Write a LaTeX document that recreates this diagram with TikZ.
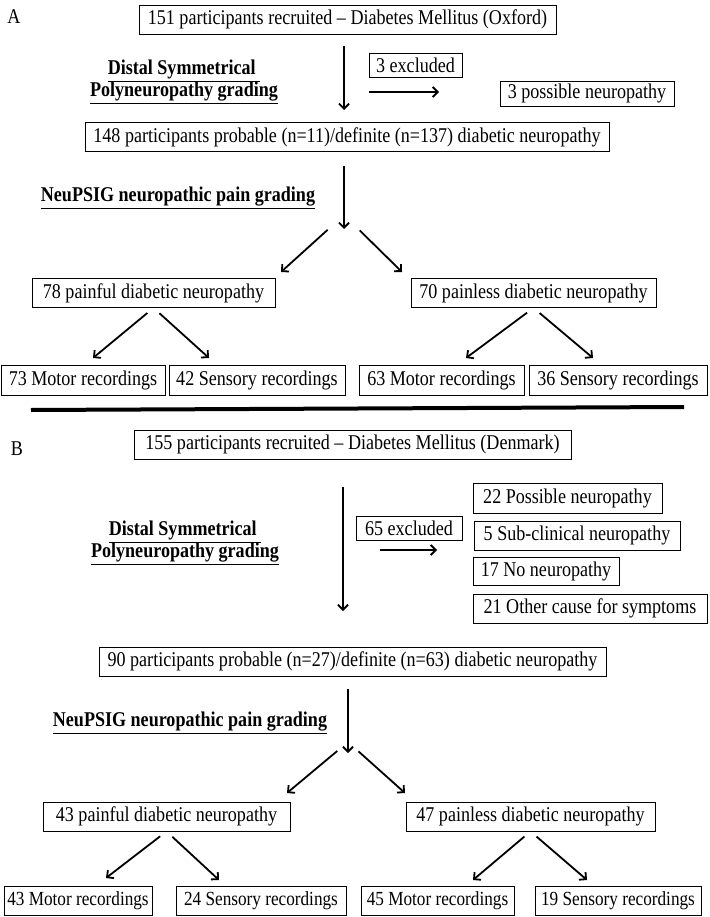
\documentclass[tikz,border=0pt]{standalone}
\usepackage{fontspec}
\setmainfont{Liberation Serif}[FakeStretch=0.86]
\usetikzlibrary{arrows.meta}
\tikzset{
  box/.style={draw, line width=0.8pt, inner xsep=1pt, inner ysep=0pt, minimum height=29},
  smallbox/.style={box, minimum height=24},
  arr/.style={line width=1.8pt, -{Straight Barb[length=5pt,width=10pt]}},
  grading/.style={font=\fontsize{21}{22}\selectfont\bfseries, align=center},
  rowB/.style={font=\fontsize{20}{21}\selectfont},
}
\begin{document}
\begin{tikzpicture}[x=1pt, y=-1pt, font=\fontsize{21}{22}\selectfont]
\useasboundingbox (0,0) rectangle (709,917);
% part A
\node (lblA) at (14,17) {A};
\node[box, minimum width=417] (recA) at (347.5,19.5) {151 participants recruited – Diabetes Mellitus (Oxford)};
\node[grading] (dspA) at (184,82) {\underline{Distal Symmetrical~}\\\underline{Polyneuropathy grading}};
\node[smallbox, minimum width=93] (exclA) at (415.5,65) {3 excluded};
\node[smallbox, minimum width=174, minimum height=25] (possA) at (587,93.5) {3 possible neuropathy};
\node[box, minimum width=524] (dnA) at (347,137) {148 participants probable (n=11)/definite (n=137) diabetic neuropathy};
\node[grading] (npA) at (178,198) {\underline{NeuPSIG neuropathic pain grading}};
\node[box, minimum width=243] (painA) at (153.5,293) {78 painful diabetic neuropathy};
\node[box, minimum width=245] (plA) at (533.5,293) {70 painless diabetic neuropathy};
\node[box, minimum width=164, minimum height=30] (mA1) at (83,380) {73 Motor recordings};
\node[box, minimum width=176, minimum height=30] (sA1) at (257,380) {42 Sensory recordings};
\node[box, minimum width=165, minimum height=30] (mA2) at (441.5,380) {63 Motor recordings};
\node[box, minimum width=178, minimum height=30] (sA2) at (618,380) {36 Sensory recordings};
\coordinate (tipA1) at (344,110);
\coordinate (hA1) at (369,92);
\coordinate (hA2) at (439,92);
\coordinate (tipA2) at (344,229);
\coordinate (forkA) at (344,215);
\coordinate (tipA3) at (281,272);
\coordinate (tipA4) at (402,272);
\coordinate (tipA5) at (93,358);
\coordinate (tipA6) at (209,358);
\coordinate (tipA7) at (466,358);
\coordinate (tipA8) at (593,358);
\draw[arr, shorten <=12pt] (recA.south -| tipA1) -- (tipA1);
\draw[arr] (hA1) -- (hA2);
\draw[arr, shorten <=14pt] (dnA.south -| tipA2) -- (tipA2);
\draw[arr, shorten <=22pt] (forkA) -- (tipA3);
\draw[arr, shorten <=22pt] (forkA) -- (tipA4);
\draw[arr, shorten <=8pt] (painA.south) -- (tipA5);
\draw[arr, shorten <=8pt] (painA.south) -- (tipA6);
\draw[arr, shorten <=8pt] (plA.south) -- (tipA7);
\draw[arr, shorten <=8pt] (plA.south) -- (tipA8);
% separator
\draw[line width=4pt] (31,410) -- (684,407);
% part B
\node (lblB) at (17,449) {B};
\node[box, minimum width=437] (recB) at (352.5,444.5) {155 participants recruited – Diabetes Mellitus (Denmark)};
\node[grading] (dspB) at (185,543) {\underline{Distal Symmetrical~}\\\underline{Polyneuropathy grading}};
\node[smallbox, minimum width=106] (exclB) at (409,528) {65 excluded};
\node[box, minimum width=189, minimum height=30] (possB) at (567.5,498) {22 Possible neuropathy};
\node[box, minimum width=206] (subB) at (577,535.5) {5 Sub-clinical neuropathy};
\node[box, minimum width=146, minimum height=28] (noB) at (546,571) {17 No neuropathy};
\node[box, minimum width=234] (othB) at (590,608.5) {21 Other cause for symptoms};
\node[box, minimum width=507] (dnB) at (352.5,661.5) {90 participants probable (n=27)/definite (n=63) diabetic neuropathy};
\node[grading] (npB) at (190,723) {\underline{NeuPSIG neuropathic pain grading}};
\node[box, minimum width=247] (painB) at (166.5,816.5) {43 painful diabetic neuropathy};
\node[box, minimum width=249] (plB) at (530.5,816.5) {47 painless diabetic neuropathy};
\node[box, rowB, minimum width=148] (mB1) at (78,900.5) {43 Motor recordings};
\node[box, rowB, minimum width=170] (sB1) at (261,900.5) {24 Sensory recordings};
\node[box, rowB, minimum width=153] (mB2) at (437.5,900.5) {45 Motor recordings};
\node[box, rowB, minimum width=166] (sB2) at (618,900.5) {19 Sensory recordings};
\coordinate (tipB1) at (343,611);
\coordinate (hB1) at (380,550);
\coordinate (hB2) at (437,550);
\coordinate (tipB2) at (348,753);
\coordinate (forkB) at (348,742);
\coordinate (tipB3) at (287,793);
\coordinate (tipB4) at (405,793);
\coordinate (tipB5) at (106,878);
\coordinate (tipB6) at (219,880);
\coordinate (tipB7) at (473,880);
\coordinate (tipB8) at (587,880);
\draw[arr, shorten <=28pt] (recB.south -| tipB1) -- (tipB1);
\draw[arr] (hB1) -- (hB2);
\draw[arr, shorten <=13pt] (dnB.south -| tipB2) -- (tipB2);
\draw[arr, shorten <=14pt] (forkB) -- (tipB3);
\draw[arr, shorten <=14pt] (forkB) -- (tipB4);
\draw[arr, shorten <=8pt] (painB.south) -- (tipB5);
\draw[arr, shorten <=8pt] (painB.south) -- (tipB6);
\draw[arr, shorten <=8pt] (plB.south) -- (tipB7);
\draw[arr, shorten <=8pt] (plB.south) -- (tipB8);
\end{tikzpicture}
\end{document}
